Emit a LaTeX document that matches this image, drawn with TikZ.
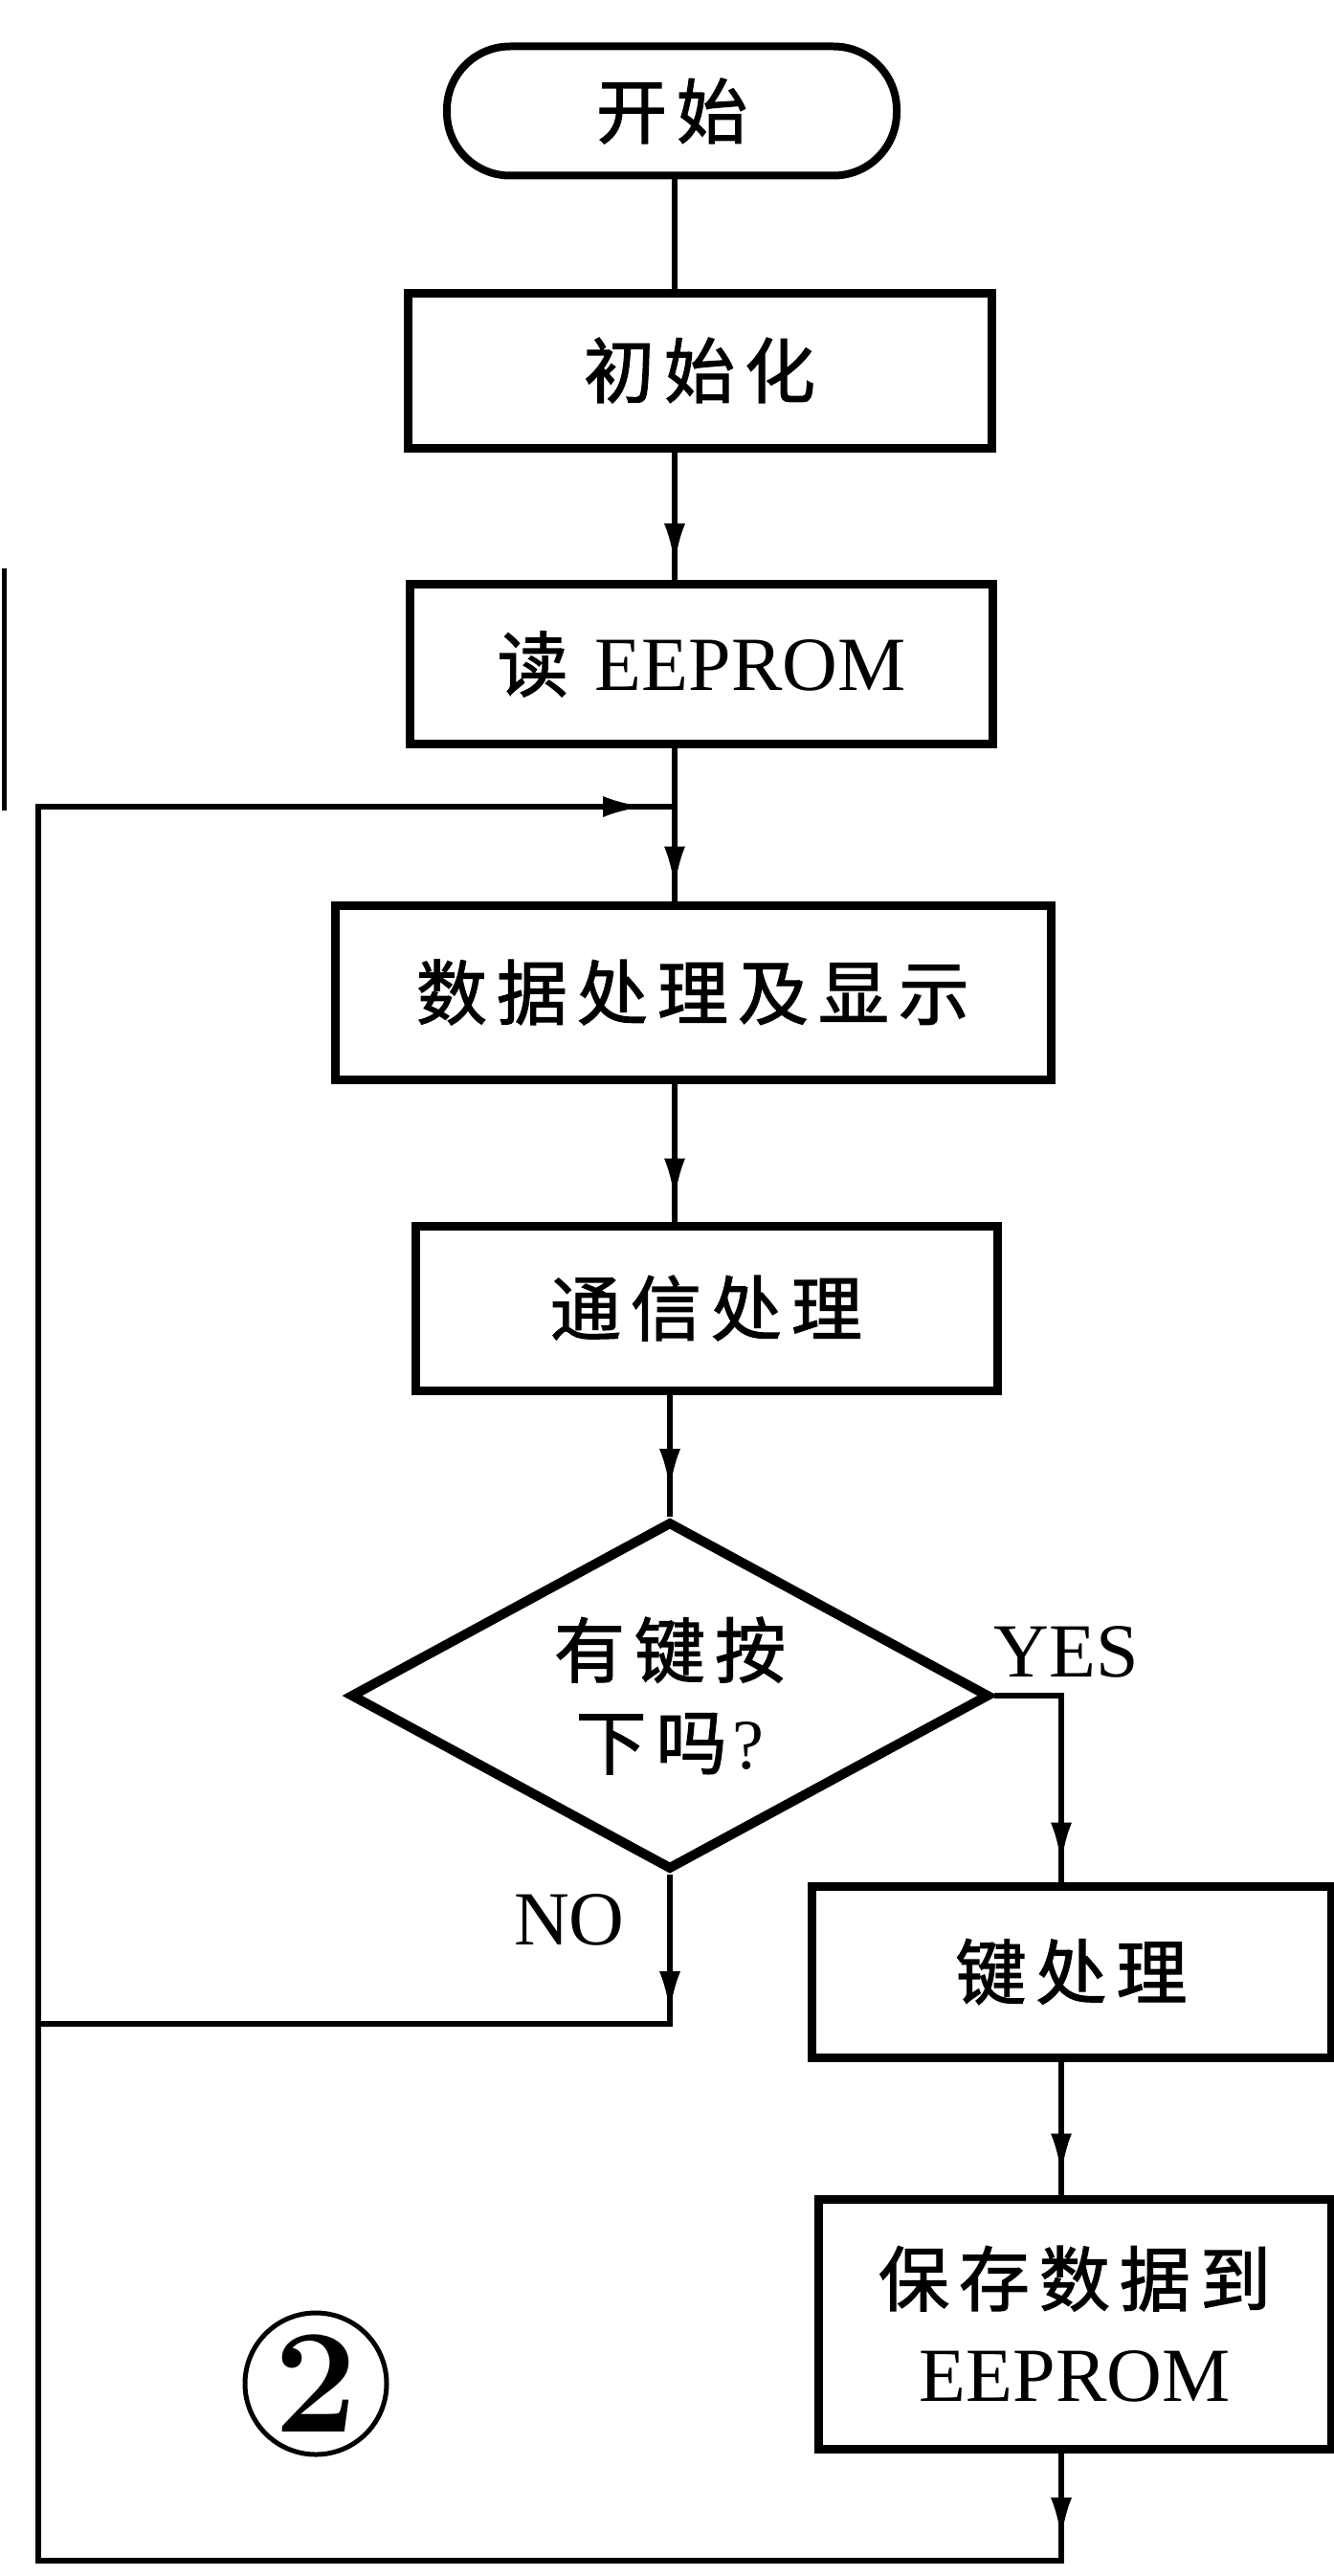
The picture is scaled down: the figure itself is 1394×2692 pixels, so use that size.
\documentclass[tikz,border=0pt]{standalone}
\usepackage{fontspec}
\newfontfamily\cjk{Noto Sans CJK SC}[FakeBold=1.6]
\newfontfamily\tnr{Liberation Serif}
\usetikzlibrary{shapes.geometric,arrows.meta,decorations.markings}
\newcommand\cjkgap{\hspace{10pt}}
\begin{document}
\begin{tikzpicture}[x=1pt,y=-1pt,
  proc/.style={draw, line width=9pt, inner sep=0pt, align=center,
    font=\cjk\fontsize{74}{100}\selectfont},
  term/.style={draw, line width=8pt, rounded corners=66pt, inner sep=0pt,
    font=\cjk\fontsize{74}{100}\selectfont},
  dec/.style={draw, diamond, shape aspect=1.8, line width=10pt, inner sep=0pt, align=center,
    font=\cjk\fontsize{74}{96}\selectfont},
  lab/.style={inner sep=0pt, font=\tnr\fontsize{80}{96}\selectfont},
  conn/.style={line width=6pt},
  arr/.style={postaction={decorate, decoration={markings,
    mark=at position #1 with {\arrow{Latex[length=44pt,width=22pt]}}}}}]
\useasboundingbox (0,0) rectangle (1394,2692);

% nodes
\node[term, minimum width=470pt, minimum height=135pt] (start) at (702,116) {开\cjkgap 始};
\node[proc, minimum width=610pt, minimum height=162pt] (init) at (731,387) {初\cjkgap 始\cjkgap 化};
\node[proc, minimum width=609pt, minimum height=167pt] (read) at (733,694)
  {读\hspace{28pt}{\tnr\fontsize{80}{96}\selectfont EEPROM}};
\node[proc, minimum width=748pt, minimum height=182pt] (data) at (724,1037)
  {数\cjkgap 据\cjkgap 处\cjkgap 理\cjkgap 及\cjkgap 显\cjkgap 示};
\node[proc, minimum width=608pt, minimum height=172pt] (comm) at (738,1367)
  {通\cjkgap 信\cjkgap 处\cjkgap 理};
\node[dec, minimum width=668pt, minimum height=364pt] (dec) at (700,1772)
  {有\cjkgap 键\cjkgap 按\\ 下\cjkgap 吗{\tnr\hspace{6pt}?}};
\node[proc, minimum width=543pt, minimum height=179pt] (key) at (1119.5,2060.5)
  {键\cjkgap 处\cjkgap 理};
\node[proc, minimum width=536pt, minimum height=261pt] (save) at (1123,2428.5)
  {保\cjkgap 存\cjkgap 数\cjkgap 据\cjkgap 到\\{\tnr\fontsize{80}{100}\selectfont EEPROM}};
\node[lab, anchor=base] (yes) at (1114,1752) {YES};
\node[lab, anchor=base] (no) at (595,2032) {NO};
\node[circle, draw, line width=5pt, minimum size=148pt, inner sep=0pt] (two) at (330,2491)
  {\fontsize{155}{155}\selectfont\bfseries 2};

% helper coordinates
\coordinate (ax) at (705,0);
\coordinate (yx) at (1109,0);
\coordinate (loopj) at (705,843);
\coordinate (tl) at (40,843);
\coordinate (bl) at (40,2676);
\coordinate (br) at (1109,2676);
\coordinate (nc) at (700,2115);

% connectors
\draw[conn] (start.south -| ax) -- (init.north -| ax);
\draw[conn, arr=-15pt] (init.south -| ax) -- (read.north -| ax);
\draw[conn, arr=-13pt] (read.south -| ax) -- (data.north -| ax);
\draw[conn, arr=-22pt] (data.south -| ax) -- (comm.north -| ax);
\draw[conn, arr=-27pt] (comm.south -| dec.north) -- (dec.north);
\draw[conn, arr=-18pt] (dec.east) -| (key.north -| yx);
\draw[conn, arr=-20pt] (key.south -| yx) -- (save.north -| yx);
\draw[conn, arr=-22pt] (save.south -| yx) -- (br);
\draw[conn, arr=-31pt, line cap=rect] (br) -- (bl) -- (tl) -- (loopj);
\draw[conn, arr=-11pt] (dec.south) -- (nc);
\draw[conn, line cap=rect] (nc) -- (nc -| bl);

% stray edge line of the scan
\draw[line width=5pt] (4,594) -- (4,847);
\end{tikzpicture}
\end{document}
